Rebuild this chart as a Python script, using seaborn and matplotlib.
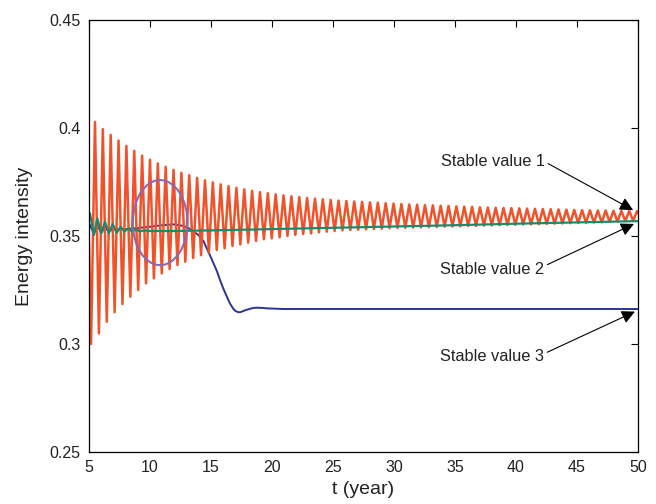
import numpy as np
import pandas as pd
import matplotlib
matplotlib.use("Agg")
import matplotlib.pyplot as plt
import seaborn as sns
from matplotlib.patches import Ellipse

# ---------------- data ----------------
# orange series: oscillation extrema (period)
orange_start_t = 5.0
orange_start_v = 0.347
orange_first_peak_t = 5.49
orange_period = 0.644
orange_peaks = [
    0.4028, 0.3995, 0.3968, 0.3942, 0.3917, 0.3894,
    0.3872, 0.3853, 0.3836, 0.3820, 0.3806, 0.3793, 0.3781, 0.3769, 0.3758, 0.3748,
    0.3739, 0.3731, 0.3723, 0.3716, 0.3709, 0.3703, 0.3698, 0.3693, 0.3688, 0.3684,
    0.3680, 0.3676, 0.3673, 0.3670, 0.3667, 0.3664, 0.3662, 0.3660,
    0.3658, 0.3656, 0.3654, 0.3652, 0.3650, 0.3648, 0.3646, 0.3645, 0.3643, 0.3642,
    0.3640, 0.3639, 0.3637, 0.3636, 0.3635, 0.3633, 0.3632, 0.3631, 0.3630, 0.3629,
    0.3628, 0.3627, 0.3626, 0.3625, 0.3624, 0.3623, 0.3622, 0.3621, 0.3620, 0.3619,
    0.3618, 0.3618, 0.3617, 0.3616, 0.3616, 0.3615,
]
orange_troughs = [
    0.3000, 0.3049, 0.3103, 0.3147, 0.3185, 0.3219, 0.3250, 0.3281, 0.3304, 0.3327,
    0.3347, 0.3366, 0.3381, 0.3398,
    0.3411, 0.3424, 0.3435, 0.3443, 0.3454, 0.3461, 0.3469, 0.3477, 0.3485, 0.3489,
    0.3494, 0.3500, 0.3505, 0.3509, 0.3512, 0.3517, 0.3520, 0.3523, 0.3526, 0.3528,
    0.3529, 0.3531, 0.3532, 0.3534, 0.3536,
    0.3537, 0.3538, 0.3539, 0.3540, 0.3541, 0.3542, 0.3543, 0.3544, 0.3545, 0.3546,
    0.3547, 0.3548, 0.3549, 0.3550, 0.3551, 0.3552, 0.3553, 0.3554, 0.3555, 0.3556,
    0.3557, 0.3558, 0.3559, 0.3560, 0.3561, 0.3562, 0.3563, 0.3565, 0.3567, 0.3569,
    0.3571,
]
orange_end_t = 50.0
orange_end_v = 0.3605

green_t = [5.0, 5.08, 5.40, 5.68, 6.00, 6.31, 6.63, 6.94, 7.27, 7.59, 7.90, 8.22,
           8.55, 8.87, 9.20, 9.50, 10.0, 12.0, 15.0, 20.0, 25.0, 30.0, 35.0, 40.0,
           45.0, 50.0]
green_v = [0.3590, 0.3605, 0.3505, 0.3582, 0.3512, 0.3566, 0.3512, 0.3556, 0.3515,
           0.3543, 0.3520, 0.3536, 0.3520, 0.3530, 0.3521, 0.3526, 0.3523, 0.3523,
           0.3526, 0.3532, 0.3538, 0.3544, 0.3550, 0.3557, 0.3563, 0.3569]

blue_t = [5.0, 5.4, 5.7, 6.0, 6.3, 6.6, 7.0, 8.0, 9.0, 10.0, 11.0, 11.9, 12.7, 13.2,
          13.55, 13.8, 14.1, 14.4, 14.65, 15.0, 15.2, 15.5, 15.74, 16.0, 16.3, 16.55,
          16.8, 17.0, 17.24, 17.45, 17.65, 17.9, 18.2, 18.5, 18.75, 19.2, 19.6, 21.0,
          25.0, 30.0, 40.0, 50.0]
blue_v = [0.3560, 0.3510, 0.3550, 0.3515, 0.3540, 0.3522, 0.3530, 0.3532, 0.3537,
          0.3543, 0.3550, 0.3554, 0.3547, 0.3535, 0.3520, 0.3512, 0.3497, 0.3475,
          0.3443, 0.3400, 0.3374, 0.3335, 0.3296, 0.3258, 0.3219, 0.3188, 0.3165,
          0.3153, 0.3147, 0.3148, 0.3153, 0.3158, 0.3163, 0.3167, 0.3168, 0.3167,
          0.3165, 0.3162, 0.3162, 0.3162, 0.3162, 0.3162]

x_ticks = [5, 10, 15, 20, 25, 30, 35, 40, 45, 50]
y_ticks = [0.25, 0.3, 0.35, 0.4, 0.45]
y_tick_labels = ["0.25", "0.3", "0.35", "0.4", "0.45"]

annotations = ["Stable value 1", "Stable value 2", "Stable value 3"]
ann_text_xy = [(33.85, 0.3847), (33.77, 0.3343), (33.77, 0.2941)]
ann_tip_xy = [(49.6, 0.3620), (49.67, 0.3556), (49.75, 0.3150)]
ann_relpos = [(1.0, 0.45), (1.0, 0.75), (1.0, 0.7)]

ellipse_center = (10.83, 0.3562)
ellipse_size = (4.48, 0.0394)

# ---------------- build orange sequence ----------------
half = orange_period / 2.0
o_t = [orange_start_t]
o_v = [orange_start_v]
for k in range(len(orange_peaks)):
    o_t.append(orange_first_peak_t - half + orange_period * k)
    o_v.append(orange_troughs[k])
    o_t.append(orange_first_peak_t + orange_period * k)
    o_v.append(orange_peaks[k])
o_t.append(orange_end_t)
o_v.append(orange_end_v)

df_o = pd.DataFrame({"t": o_t, "v": o_v})
df_g = pd.DataFrame({"t": green_t, "v": green_v})
df_b = pd.DataFrame({"t": blue_t, "v": blue_v})

# ---------------- plot ----------------
sns.set_theme(style="white")
plt.rcParams["font.family"] = ["Liberation Sans", "DejaVu Sans"]

fig = plt.figure(figsize=(6.56, 5.04), dpi=100)
ax = fig.add_axes([89 / 656, 1 - 452 / 504, (638 - 89) / 656, 432 / 504])

sns.lineplot(data=df_b, x="t", y="v", ax=ax, color="#2B3595", lw=1.4,
             sort=False, estimator=None)
l_o = sns.lineplot(data=df_o, x="t", y="v", ax=ax, color="#F2522A", lw=1.8,
                   sort=False, estimator=None)
ax.lines[-1].set_solid_joinstyle("round")
sns.lineplot(data=df_g, x="t", y="v", ax=ax, color="#1B8A6B", lw=1.6,
             sort=False, estimator=None)

ell = Ellipse(ellipse_center, ellipse_size[0], ellipse_size[1], fill=False,
              edgecolor="#8A6AAE", lw=1.5, zorder=5)
ax.add_patch(ell)

for txt, txy, tip, rp in zip(annotations, ann_text_xy, ann_tip_xy, ann_relpos):
    ax.annotate(txt, xy=tip, xytext=txy, ha="left", va="center", fontsize=11.8,
                color="#222222",
                arrowprops=dict(arrowstyle="-|>", color="black", lw=0.8,
                                shrinkA=0, shrinkB=0, mutation_scale=20,
                                relpos=rp))

ax.set_xlim(5, 50)
ax.set_ylim(0.25, 0.45)
ax.set_xticks(x_ticks)
ax.set_xticklabels([str(v) for v in x_ticks])
ax.set_yticks(y_ticks)
ax.set_yticklabels(y_tick_labels)
ax.tick_params(direction="in", length=5, width=0.8, top=True, right=True,
               labelsize=11.5, colors="black", pad=6, labelcolor="#222222")
for s in ax.spines.values():
    s.set_visible(True)
    s.set_color("black")
    s.set_linewidth(0.9)

ax.set_xlabel("t (year)", fontsize=14, labelpad=4, color="#222222")
ax.set_ylabel("Energy intensity", fontsize=14, labelpad=12, color="#222222")

fig.savefig("out.png", dpi=100, facecolor="white")
